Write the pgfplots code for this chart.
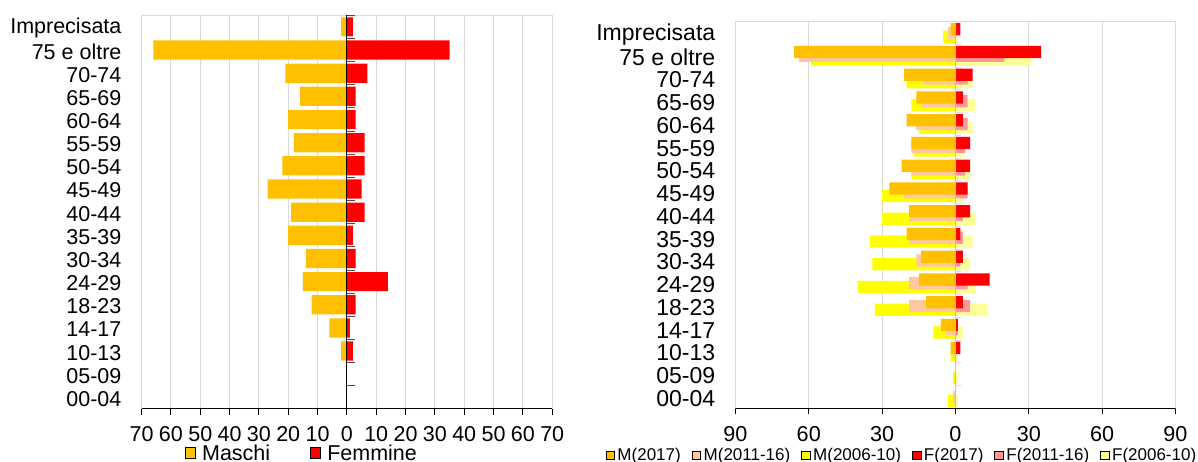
\documentclass[border=0pt]{standalone}
\usepackage{pgfplots}
\pgfplotsset{compat=1.18}
\usepackage{pgfplotstable}
\usepackage{fontspec}
\setmainfont{Liberation Sans}

\definecolor{cM}{HTML}{FFC000}
\definecolor{cF}{HTML}{FF0000}
\definecolor{cMb}{HTML}{FFC8A0}
\definecolor{cFb}{HTML}{FF9999}
\definecolor{cMc}{HTML}{FFFF00}
\definecolor{cFc}{HTML}{FFFF99}
\definecolor{gridc}{HTML}{D9D9D9}
\definecolor{zeroc}{HTML}{BFBFBF}

% y: 0 = 00-04 ... 16 = Imprecisata
\pgfplotstableread{
y M F
0 0 0
1 0 0
2 -2 2
3 -6 1
4 -12 3
5 -15 14
6 -14 3
7 -20 2
8 -19 6
9 -27 5
10 -22 6
11 -18 6
12 -20 3
13 -16 3
14 -21 7
15 -66 35
16 -2 2
}\lefttab

\pgfplotstableread{
y M17 M11 M06 F17 F11 F06
0 0 -1 -3 0 0 1
1 0 0 -1 0 0 1
2 -2 -1 -2 2 0 1
3 -6 -4 -9 1 1 3
4 -12 -19 -33 3 6 13
5 -15 -19 -40 14 5 8
6 -14 -16 -34 3 2 6
7 -20 -19 -35 2 3 7
8 -19 -19 -30 6 3 8
9 -27 -21 -30 5 5 3
10 -22 -18 -18 6 4 6
11 -18 -18 -17 6 4 4
12 -20 -16 -15 3 5 7
13 -16 -14 -18 3 5 8
14 -21 -13 -20 7 5 7
15 -66 -64 -59 35 20 31
16 -2 -3 -5 2 0 1
}\righttab

\pgfplotsset{
  common/.style={
    scale only axis,
    anchor=south west,
    ymin=-0.5, ymax=16.5,
    ytick={0,...,16},
    yticklabels={00-04,05-09,10-13,14-17,18-23,24-29,30-34,35-39,40-44,45-49,50-54,55-59,60-64,65-69,70-74,75 e oltre,Imprecisata},
    xmajorgrids,
    grid style={gridc, line width=1pt},
    axis line style={gridc, line width=1pt},
    xtick pos=left,
    xtick align=outside,
    major tick length=6pt,
    x tick style={black, line width=1pt},
    y tick style={draw=none},
    yticklabel style={anchor=east, inner sep=0pt, xshift=-20pt, yshift=-1.5pt},
    xticklabel style={inner sep=0pt, yshift=-11.5pt},
    /pgf/number format/assume math mode=true,
    legend cell align=left,
  },
}

\begin{document}
\begin{tikzpicture}[x=1pt,y=1pt]
\useasboundingbox (0,0) rectangle (1198,462);

% ---------- left chart ----------
\begin{axis}[
  common,
  at={(141.6pt,53pt)},
  width=410.6pt, height=393.7pt,
  xmin=-70, xmax=70,
  xtick={-70,-60,...,70},
  xticklabels={70,60,50,40,30,20,10,0,10,20,30,40,50,60,70},
  tick label style={font=\fontsize{21.5}{24}\selectfont},
  legend columns=2,
  legend image code/.code={\fill[#1] (0pt,-5.35pt) rectangle (10.7pt,5.35pt);},
  legend style={at={(0.1045,-0.1118)}, anchor=west, draw=none, fill=none,
    inner sep=0pt, outer sep=0pt, nodes={inner sep=0pt},
    font=\fontsize{21.5}{24}\selectfont,
    /tikz/every odd column/.append style={column sep=6.5pt},
    /tikz/every even column/.append style={column sep=39.5pt}},
]
\addplot[xbar, bar width=0.83, bar shift=0, fill=cM, draw=none, forget plot] table[x=M, y=y] {\lefttab};
\addplot[xbar, bar width=0.83, bar shift=0, fill=cF, draw=none, forget plot] table[x=F, y=y] {\lefttab};
\draw[black, line width=1pt] (axis cs:0,-0.5) -- (axis cs:0,16.5);
\pgfplotsinvokeforeach{-0.5,0.5,...,16.5}{
  \draw[black!70, line width=1pt] (axis cs:0,#1) -- ++(7.7pt,0pt);
}
\draw[black, line width=1pt] (rel axis cs:0,0) -- (rel axis cs:1,0);
\addlegendimage{fill=cM}
\addlegendentry{Maschi}
\addlegendimage{fill=cF}
\addlegendentry{Femmine}
\end{axis}

% ---------- right chart ----------
\begin{axis}[
  common,
  at={(735.4pt,53.7pt)},
  width=440.1pt, height=386.6pt,
  xmin=-90, xmax=90,
  xtick={-90,-60,...,90},
  xticklabels={90,60,30,0,30,60,90},
  grid style={gridc, line width=1pt},
  xticklabel style={font=\fontsize{21.6}{24}\selectfont},
  yticklabel style={font=\fontsize{23}{26}\selectfont},
  legend columns=6,
  legend image code/.code={\fill[#1] (0pt,-4.25pt) rectangle (8.5pt,4.25pt);},
  legend style={at={(-0.295,-0.1208)}, anchor=west, draw=none, fill=none,
    inner sep=0pt, outer sep=0pt, nodes={inner sep=0pt},
    font=\fontsize{17}{20}\selectfont,
    /tikz/every odd column/.append style={column sep=3pt},
    /tikz/every even column/.append style={column sep=11pt}},
]
\addplot[xbar, bar width=0.535, bar shift=-0.165, fill=cMc, draw=none, forget plot] table[x=M06, y=y] {\righttab};
\addplot[xbar, bar width=0.535, bar shift=-0.165, fill=cFc, draw=none, forget plot] table[x=F06, y=y] {\righttab};
\addplot[xbar, bar width=0.535, bar shift=0, fill=cMb, draw=none, forget plot] table[x=M11, y=y] {\righttab};
\addplot[xbar, bar width=0.535, bar shift=0, fill=cFb, draw=none, forget plot] table[x=F11, y=y] {\righttab};
\addplot[xbar, bar width=0.535, bar shift=0.165, fill=cM, draw=none, forget plot] table[x=M17, y=y] {\righttab};
\addplot[xbar, bar width=0.535, bar shift=0.165, fill=cF, draw=none, forget plot] table[x=F17, y=y] {\righttab};
\draw[zeroc, line width=1pt] (axis cs:0,-0.5) -- (axis cs:0,16.5);
\pgfplotsinvokeforeach{-0.5,0.5,...,16.5}{
  \draw[gridc, line width=1pt] (axis cs:0,#1) -- ++(6pt,0pt);
}
\draw[black, line width=1pt] (rel axis cs:0,0) -- (rel axis cs:1,0);
\addlegendimage{fill=cM}
\addlegendentry{M(2017)}
\addlegendimage{fill=cMb}
\addlegendentry{M(2011-16)}
\addlegendimage{fill=cMc}
\addlegendentry{M(2006-10)}
\addlegendimage{fill=cF}
\addlegendentry{F(2017)}
\addlegendimage{fill=cFb}
\addlegendentry{F(2011-16)}
\addlegendimage{fill=cFc}
\addlegendentry{F(2006-10)}
\end{axis}
\end{tikzpicture}
\end{document}
